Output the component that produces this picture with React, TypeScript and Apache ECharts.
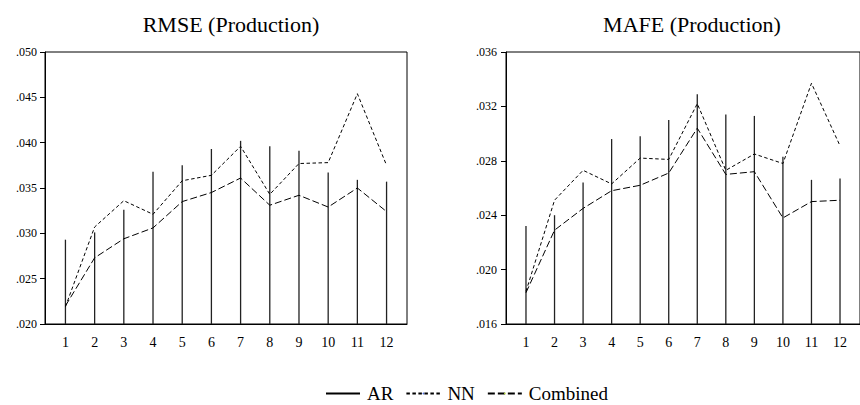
import React, { useEffect, useRef } from "react";
import * as echarts from "echarts";

const horizons = [1, 2, 3, 4, 5, 6, 7, 8, 9, 10, 11, 12];

const rmseAR = [0.0293, 0.0301, 0.0326, 0.0368, 0.0375, 0.0393, 0.0402, 0.0396, 0.0391, 0.0367, 0.0359, 0.0357];
const rmseNN = [0.0219, 0.0307, 0.0336, 0.0321, 0.0358, 0.0364, 0.0396, 0.0343, 0.0377, 0.0378, 0.0454, 0.0375];
const rmseComb = [0.022, 0.0273, 0.0294, 0.0306, 0.0335, 0.0345, 0.0361, 0.0331, 0.0342, 0.0329, 0.035, 0.0324];

const mafeAR = [0.0232, 0.024, 0.0264, 0.0296, 0.0298, 0.031, 0.0329, 0.0314, 0.0313, 0.0283, 0.0266, 0.0267];
const mafeNN = [0.0184, 0.0251, 0.0273, 0.0263, 0.0282, 0.0281, 0.0322, 0.0273, 0.0285, 0.0278, 0.0337, 0.0291];
const mafeComb = [0.0183, 0.0229, 0.0245, 0.0258, 0.0262, 0.0271, 0.0304, 0.027, 0.0272, 0.0238, 0.025, 0.0251];

const rmseAxis = { min: 0.02, max: 0.05, interval: 0.005 };
const mafeAxis = { min: 0.016, max: 0.036, interval: 0.004 };

const titles = ["RMSE (Production)", "MAFE (Production)"];
const seriesNames = ["AR", "NN", "Combined"];

const FONT = "Liberation Serif";

const pairs = (vals: number[]) => horizons.map((h, i) => [h, vals[i]]);

export default function App() {
  const ref = useRef<HTMLDivElement>(null);
  useEffect(() => {
    if (!ref.current) return;
    const chart = echarts.init(ref.current, undefined, { renderer: "svg" });

    const grids = [
      { left: 45, top: 52, width: 362, height: 272 },
      { left: 506, top: 52, width: 362, height: 272 },
    ];
    const yDefs = [rmseAxis, mafeAxis];
    const labelMargins = [8, 9];

    const xAxes = grids.map((_, i) => ({
      type: "value",
      gridIndex: i,
      min: 0.3,
      max: 12.7,
      splitLine: { show: false },
      axisLine: { show: true, lineStyle: { color: "#000", width: 1 } },
      axisTick: { show: false },
      axisLabel: {
        customValues: horizons,
        color: "#000",
        fontFamily: FONT,
        fontSize: 14,
        margin: 11,
      },
    }));

    const yAxes = grids.map((_, i) => ({
      type: "value",
      gridIndex: i,
      min: yDefs[i].min,
      max: yDefs[i].max,
      interval: yDefs[i].interval,
      splitLine: { show: false },
      axisLine: { show: true, lineStyle: { color: "#000", width: 1 } },
      axisTick: { show: true, length: 5, lineStyle: { color: "#000" } },
      axisLabel: {
        color: "#000",
        fontFamily: FONT,
        fontSize: 12,
        margin: labelMargins[i],
        formatter: (v: number) => v.toFixed(3).replace(/^0/, ""),
      },
    }));

    const data = [
      [rmseAR, rmseNN, rmseComb],
      [mafeAR, mafeNN, mafeComb],
    ];

    const series: any[] = [];
    data.forEach((set, gi) => {
      series.push({
        name: seriesNames[0],
        type: "bar",
        xAxisIndex: gi,
        yAxisIndex: gi,
        barWidth: 1.3,
        clip: true,
        itemStyle: { color: "#222" },
        data: pairs(set[0]),
        z: 2,
      });
      series.push({
        name: seriesNames[1],
        type: "line",
        xAxisIndex: gi,
        yAxisIndex: gi,
        symbol: "none",
        lineStyle: { color: "#000", width: 1, type: [3.5, 2.5] },
        data: pairs(set[1]),
        z: 3,
      });
      series.push({
        name: seriesNames[2],
        type: "line",
        xAxisIndex: gi,
        yAxisIndex: gi,
        symbol: "none",
        lineStyle: { color: "#000", width: 1, type: [7, 3] },
        data: pairs(set[2]),
        z: 3,
      });
    });

    chart.setOption({
      animation: false,
      backgroundColor: "#fff",
      textStyle: { fontFamily: FONT },
      title: titles.map((t, i) => ({
        text: t,
        left: i === 0 ? 226 : 687,
        top: 8,
        textAlign: "center",
        textStyle: { fontFamily: FONT, fontSize: 22, fontWeight: "normal", color: "#000" },
      })),
      legend: {
        left: 326,
        top: 384,
        padding: 0,
        itemWidth: 34,
        itemHeight: 2,
        itemGap: 12,
        data: [
          { name: "AR", icon: "rect", itemStyle: { color: "#000" } },
          { name: "NN" },
          { name: "Combined" },
        ],
        textStyle: { fontFamily: FONT, fontSize: 19, lineHeight: 19, color: "#000", padding: [0, 0, 0, 2] },
      },
      grid: grids.map((g) => ({
        ...g,
        show: true,
        borderColor: "#000",
        borderWidth: 1,
        backgroundColor: "transparent",
      })),
      xAxis: xAxes,
      yAxis: yAxes,
      series,
    });

    return () => chart.dispose();
  }, []);

  return (
    <div
      ref={ref}
      style={{ position: "fixed", left: 0, top: 0, width: 860, height: 405 }}
    />
  );
}
